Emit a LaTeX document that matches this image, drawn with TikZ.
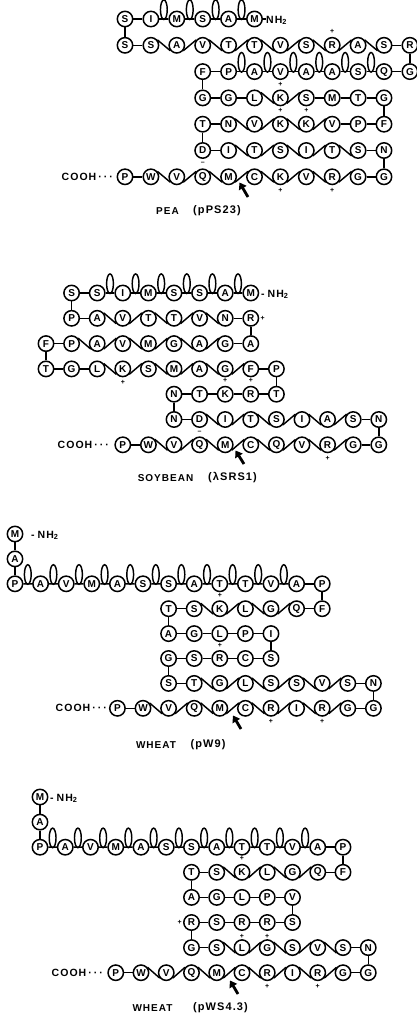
\documentclass[tikz,border=0pt]{standalone}
\usepackage{fontspec}
\setmainfont{Liberation Sans}
\newfontfamily\lblfont[LetterSpace=10]{Liberation Sans}
\usetikzlibrary{calc,arrows.meta}

\tikzset{
  aa/.style={circle, draw, line width=1.5pt, minimum size=15.4pt, inner sep=0pt,
             font=\bfseries\fontsize{10}{10}\selectfont},
  bond/.style={line width=1.45pt},
  chg/.style={inner sep=0pt, font=\bfseries\fontsize{7}{7}\selectfont},
  term/.style={inner sep=0pt, font=\lblfont\bfseries\fontsize{10.5}{10.5}\selectfont},
  title/.style={inner sep=0pt, font=\lblfont\bfseries\fontsize{10}{10}\selectfont},
  clone/.style={inner sep=0pt, font=\lblfont\bfseries\fontsize{11}{11}\selectfont},
  cursor/.style={line width=2.8pt, -{Triangle[length=6.5pt,width=8.5pt]}},
}

% one row of residues: name, x0, step, y, first column, letters
\newcommand\resrow[6]{\foreach \l [count=\k from #5] in {#6}{\node[aa] (#1-\k) at ({#2+#3*\k},#4) {\l};}}
% straight bonds between columns #2..#3 and the next one
\newcommand\srun[3]{\foreach \k [evaluate=\k as \n using int(\k+1)] in {#2,...,#3}{\draw[bond] (#1-\k) -- (#1-\n);}}
% zigzag (sheet) bonds
\newcommand\zrun[4]{\foreach \k [evaluate=\k as \n using int(\k+1)] in {#2,...,#3}{%
  \pgfmathtruncatemacro\p{mod(\k+#4,2)}%
  \ifnum\p=0\relax \draw[bond] (#1-\k.40) -- (#1-\n.220);\else \draw[bond] (#1-\k.-40) -- (#1-\n.140);\fi}}
% helical loops
\newcommand\lrun[3]{\foreach \k [evaluate=\k as \n using int(\k+1)] in {#2,...,#3}{%
  \draw[bond] (#1-\k) -- ($(#1-\k)!.5!(#1-\n)$) coordinate (lm) -- (#1-\n);
  \draw[bond] (lm) ++(0,-9.3) ellipse [x radius=3.4, y radius=9.8];}}

\begin{document}
\begin{tikzpicture}[x=1pt,y=-1pt]
\fill[white] (0,0) rectangle (416,1018);
\useasboundingbox (0,0) rectangle (416,1018);

% ---------------- PEA ----------------
\resrow{a1}{125}{25.9}{19}{0}{S,I,M,S,A,M}
\resrow{a2}{125}{25.9}{45.3}{0}{S,S,A,V,T,T,V,S,R,A,S,R}
\resrow{a3}{125}{25.9}{71.6}{3}{F,P,A,V,A,A,S,Q,G}
\resrow{a4}{125}{25.9}{97.9}{3}{G,G,L,K,S,M,T,G}
\resrow{a5}{125}{25.9}{124.2}{3}{T,N,V,K,K,V,P,F}
\resrow{a6}{125}{25.9}{150.5}{3}{D,I,T,S,I,T,S,N}
\resrow{a7}{125}{25.9}{176.8}{0}{P,W,V,Q,M,C,K,V,R,G,G}

\srun{a1}{0}{0} \lrun{a1}{1}{4}
\draw[bond] (a1-0) -- (a2-0);
\srun{a2}{0}{0} \zrun{a2}{1}{9}{1} \srun{a2}{10}{10}
\draw[bond] (a2-11) -- (a3-11);
\srun{a3}{3}{3} \lrun{a3}{4}{9} \srun{a3}{10}{10}
\draw[bond] (a3-3) -- (a4-3);
\srun{a4}{3}{4} \zrun{a4}{5}{6}{1} \srun{a4}{7}{9}
\draw[bond] (a4-10) -- (a5-10);
\srun{a5}{3}{3} \zrun{a5}{4}{7}{0} \srun{a5}{8}{9}
\draw[bond] (a5-3) -- (a6-3);
\srun{a6}{3}{3} \zrun{a6}{4}{8}{0} \srun{a6}{9}{9}
\draw[bond] (a6-10) -- (a7-10);
\srun{a7}{0}{0} \zrun{a7}{1}{8}{1} \srun{a7}{9}{9}

\node[chg] (a2-8c) at ([yshift=5pt]a2-8.north) {+};
\node[chg] (a4-6c) at ([yshift=5pt]a4-6.north) {+};
\node[chg] (a5-6c) at ([yshift=5pt]a5-6.north) {+};
\node[chg] (a5-7c) at ([yshift=5pt]a5-7.north) {+};
\node[chg] (a6-3c) at ([yshift=-4pt]a6-3.south) {--};
\node[chg] (a7-6c) at ([yshift=-5pt]a7-6.south) {+};
\node[chg] (a7-8c) at ([yshift=-5pt]a7-8.south) {+};

\node[term, anchor=west] (a1nh) at (266,20.5) {NH\textsubscript{2}};
\draw[bond] (a1-5) -- (a1-5.east -| a1nh.west);
\node[term, anchor=east] (a7co) at (113,176.8) {COOH\hspace{2pt}·\hspace{2pt}·\hspace{2pt}·};
\node[title] (a-name) at (167.5,211) {PEA};
\node[clone] (a-clone) at (217,211) {(pPS23)};
\coordinate (a-tip) at (239.5,182.5);
\coordinate (a-tail) at (248,197);
\draw[cursor] (a-tail) -- (a-tip);

% ---------------- SOYBEAN ----------------
\resrow{b1}{46}{25.6}{293}{1}{S,S,I,M,S,S,A,M}
\resrow{b2}{46}{25.6}{318.3}{1}{P,A,V,T,T,V,N,R}
\resrow{b3}{46}{25.6}{343.6}{0}{F,P,A,V,M,G,A,G,A}
\resrow{b4}{46}{25.6}{368.9}{0}{T,G,L,K,S,M,A,G,F,P}
\resrow{b5}{46}{25.6}{394.2}{5}{N,T,K,R,T}
\resrow{b6}{46}{25.6}{419.5}{5}{N,D,I,T,S,I,A,S,N}
\resrow{b7}{46}{25.6}{444.8}{3}{P,W,V,Q,M,C,Q,V,R,G,G}

\srun{b1}{1}{1} \lrun{b1}{2}{7}
\draw[bond] (b1-1) -- (b2-1);
\srun{b2}{1}{1} \zrun{b2}{2}{6}{0} \srun{b2}{7}{7}
\draw[bond] (b2-8) -- (b3-8);
\srun{b3}{0}{0} \zrun{b3}{1}{6}{1} \srun{b3}{7}{7}
\draw[bond] (b3-0) -- (b4-0);
\srun{b4}{0}{1} \zrun{b4}{2}{7}{0} \srun{b4}{8}{8}
\draw[bond] (b4-9) -- (b5-9);
\srun{b5}{5}{8}
\draw[bond] (b5-5) -- (b6-5);
\srun{b6}{5}{5} \zrun{b6}{6}{11}{0} \srun{b6}{12}{12}
\draw[bond] (b6-13) -- (b7-13);
\srun{b7}{3}{3} \zrun{b7}{4}{11}{0} \srun{b7}{12}{12}

\node[chg] (b2-8c) at ([xshift=3.5pt]b2-8.east) {+};
\node[chg] (b4-3c) at ([yshift=-5pt]b4-3.south) {+};
\node[chg] (b5-7c) at ([yshift=5pt]b5-7.north) {+};
\node[chg] (b5-8c) at ([yshift=5pt]b5-8.north) {+};
\node[chg] (b6-6c) at ([yshift=-4pt]b6-6.south) {--};
\node[chg] (b7-11c) at ([yshift=-5pt]b7-11.south) {+};

\node[term, anchor=west] (b1nh) at (261,294.5) {-\hspace{3pt}NH\textsubscript{2}};
\node[term, anchor=east] (b7co) at (109,444.8) {COOH\hspace{2pt}·\hspace{2pt}·\hspace{2pt}·};
\node[title] (b-name) at (165.5,478) {SOYBEAN};
\node[clone] (b-clone) at (232.5,478) {(λSRS1)};
\coordinate (b-tip) at (235.5,450.5);
\coordinate (b-tail) at (244,464);
\draw[cursor] (b-tail) -- (b-tip);

% ---------------- WHEAT pW9 ----------------
\resrow{c1}{15}{25.6}{534}{0}{M}
\resrow{c2}{15}{25.6}{558.9}{0}{A}
\resrow{c3}{15}{25.6}{583.8}{0}{P,A,V,M,A,S,S,A,T,T,V,A,P}
\resrow{c4}{15}{25.6}{608.7}{6}{T,S,K,L,G,Q,F}
\resrow{c5}{15}{25.6}{633.6}{6}{A,G,L,P,I}
\resrow{c6}{15}{25.6}{658.5}{6}{G,S,R,C,S}
\resrow{c7}{15}{25.6}{683.4}{6}{S,T,G,L,S,S,V,S,N}
\resrow{c8}{15}{25.6}{708.3}{4}{P,W,V,Q,M,C,R,I,R,G,G}

\draw[bond] (c1-0) -- (c2-0);
\draw[bond] (c2-0) -- (c3-0);
\lrun{c3}{0}{10} \srun{c3}{11}{11}
\draw[bond] (c3-12) -- (c4-12);
\srun{c4}{6}{6} \zrun{c4}{7}{10}{1} \srun{c4}{11}{11}
\draw[bond] (c4-6) -- (c5-6);
\srun{c5}{6}{9}
\draw[bond] (c5-10) -- (c6-10);
\srun{c6}{6}{9}
\draw[bond] (c6-6) -- (c7-6);
\srun{c7}{6}{6} \zrun{c7}{7}{12}{1} \srun{c7}{13}{13}
\draw[bond] (c7-14) -- (c8-14);
\srun{c8}{4}{4} \zrun{c8}{5}{12}{1} \srun{c8}{13}{13}

\node[chg] (c4-8c) at ([yshift=5pt]c4-8.north) {+};
\node[chg] (c6-8c) at ([yshift=5pt]c6-8.north) {+};
\node[chg] (c8-10c) at ([yshift=-5pt]c8-10.south) {+};
\node[chg] (c8-12c) at ([yshift=-5pt]c8-12.south) {+};

\node[term, anchor=west] (c1nh) at (31,535.5) {-\hspace{3pt}NH\textsubscript{2}};
\node[term, anchor=east] (c8co) at (107,708.3) {COOH\hspace{2pt}·\hspace{2pt}·\hspace{2pt}·};
\node[title] (c-name) at (156,745) {WHEAT};
\node[clone] (c-clone) at (208,745) {(pW9)};
\coordinate (c-tip) at (233,715.5);
\coordinate (c-tail) at (241,729);
\draw[cursor] (c-tail) -- (c-tip);

% ---------------- WHEAT pWS4.3 ----------------
\resrow{d1}{40}{25.25}{797}{0}{M}
\resrow{d2}{40}{25.25}{822.1}{0}{A}
\resrow{d3}{40}{25.25}{847.2}{0}{P,A,V,M,A,S,S,A,T,T,V,A,P}
\resrow{d4}{40}{25.25}{872.3}{6}{T,S,K,L,G,Q,F}
\resrow{d5}{40}{25.25}{897.4}{6}{A,G,L,P,V}
\resrow{d6}{40}{25.25}{922.5}{6}{R,S,R,R,S}
\resrow{d7}{40}{25.25}{947.6}{6}{G,S,L,G,S,V,S,N}
\resrow{d8}{40}{25.25}{972.7}{3}{P,W,V,Q,M,C,R,I,R,G,G}

\draw[bond] (d1-0) -- (d2-0);
\draw[bond] (d2-0) -- (d3-0);
\lrun{d3}{0}{10} \srun{d3}{11}{11}
\draw[bond] (d3-12) -- (d4-12);
\srun{d4}{6}{6} \zrun{d4}{7}{10}{1} \srun{d4}{11}{11}
\draw[bond] (d4-6) -- (d5-6);
\srun{d5}{6}{9}
\draw[bond] (d5-10) -- (d6-10);
\srun{d6}{6}{9}
\draw[bond] (d6-6) -- (d7-6);
\srun{d7}{6}{6} \zrun{d7}{7}{11}{1} \srun{d7}{12}{12}
\draw[bond] (d7-13) -- (d8-13);
\srun{d8}{3}{3} \zrun{d8}{4}{11}{0} \srun{d8}{12}{12}

\node[chg] (d4-8c) at ([yshift=5pt]d4-8.north) {+};
\node[chg] (d6-6c) at ([xshift=-3.5pt]d6-6.west) {+};
\node[chg] (d6-8c) at ([yshift=-5pt]d6-8.south) {+};
\node[chg] (d6-9c) at ([yshift=-5pt]d6-9.south) {+};
\node[chg] (d8-9c) at ([yshift=-5pt]d8-9.south) {+};
\node[chg] (d8-11c) at ([yshift=-5pt]d8-11.south) {+};

\node[term, anchor=west] (d1nh) at (50,798.5) {-\hspace{3pt}NH\textsubscript{2}};
\node[term, anchor=east] (d8co) at (103,972.7) {COOH\hspace{2pt}·\hspace{2pt}·\hspace{2pt}·};
\node[title] (d-name) at (152.5,1008) {WHEAT};
\node[clone] (d-clone) at (220.5,1008) {(pWS4.3)};
\coordinate (d-tip) at (230,980.5);
\coordinate (d-tail) at (238,994);
\draw[cursor] (d-tail) -- (d-tip);
\end{tikzpicture}
\end{document}
